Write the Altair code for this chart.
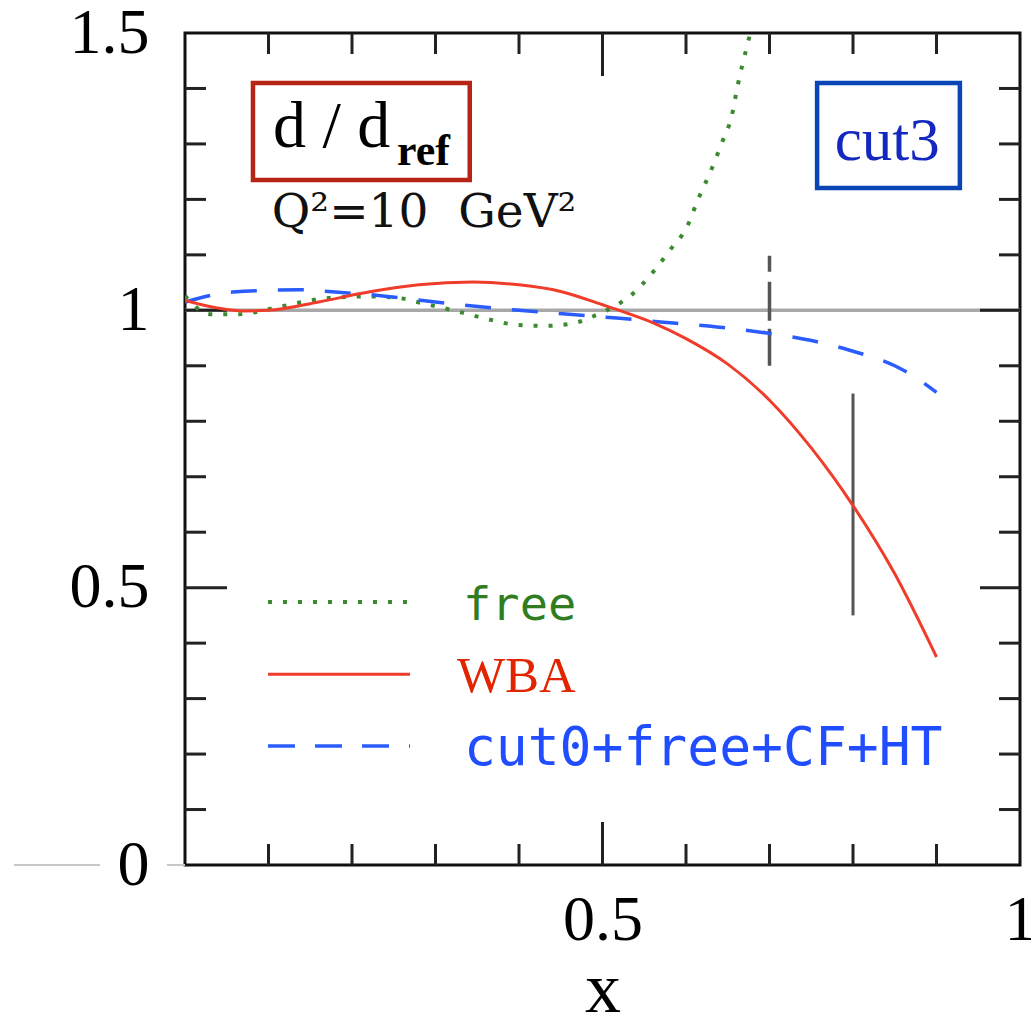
import altair as alt
import pandas as pd

# ---------------- data ----------------
wba_x = [0.0, 0.04, 0.07, 0.10, 0.16, 0.22, 0.28, 0.345, 0.40, 0.45, 0.50, 0.52, 0.56, 0.60, 0.65, 0.70, 0.75, 0.80, 0.85, 0.90]
wba_y = [1.018, 1.004, 0.999, 1.000, 1.015, 1.033, 1.046, 1.051, 1.046, 1.034, 1.010, 1.000, 0.978, 0.949, 0.903, 0.838, 0.752, 0.648, 0.525, 0.375]

cut0_x = [0.0, 0.057, 0.138, 0.18, 0.237, 0.30, 0.357, 0.40, 0.46, 0.517, 0.585, 0.637, 0.697, 0.749, 0.796, 0.85, 0.875, 0.90]
cut0_y = [1.015, 1.033, 1.037, 1.033, 1.026, 1.015, 1.006, 1.000, 0.993, 0.986, 0.977, 0.970, 0.959, 0.946, 0.928, 0.900, 0.879, 0.852]

free_x = [0.0, 0.030, 0.065, 0.10, 0.134, 0.17, 0.22, 0.257, 0.278, 0.329, 0.363, 0.397, 0.435, 0.471, 0.487, 0.505, 0.521, 0.537, 0.549, 0.569, 0.581, 0.601, 0.615, 0.629, 0.643, 0.655, 0.662, 0.674, 0.677]
free_y = [1.026, 0.993, 0.993, 1.002, 1.013, 1.022, 1.025, 1.022, 1.015, 0.997, 0.984, 0.974, 0.972, 0.979, 0.988, 1.000, 1.013, 1.031, 1.049, 1.085, 1.109, 1.150, 1.202, 1.249, 1.302, 1.352, 1.406, 1.482, 1.500]

ref_level = [1.0]

marker_x = [0.7, 0.8]
marker_lo = [0.9, 0.45]
marker_hi = [1.1, 0.85]

x_labels = [0.5, 1]
y_labels = [0, 0.5, 1, 1.5]
x_minor = [0.1, 0.2, 0.3, 0.4, 0.6, 0.7, 0.8, 0.9]
x_major = [0.5]
y_minor = [0.1, 0.2, 0.3, 0.4, 0.6, 0.7, 0.8, 0.9, 1.1, 1.2, 1.3, 1.4]
y_major = [0.5, 1.0]

legend_names = ["free", "WBA", "cut0+free+CF+HT"]

# ---------------- layout / styles ----------------
W, H = 835, 832
xs = alt.Scale(domain=[0, 1], nice=False, zero=False)
ys = alt.Scale(domain=[0, 1.5], nice=False, zero=False)
SERIF = "Liberation Serif"
MONO = "DejaVu Sans Mono"
RED, GREEN, BLUE = "#f03c2a", "#3b8a2f", "#2a5cff"
TICK = "#222222"

AXX = alt.Axis(values=x_labels, format="~g", ticks=False, tickSize=0, domain=False,
               grid=False, labelFont=SERIF, labelFontSize=64, labelColor="black",
               labelPadding=23, labelFlush=False, labelOverlap=False,
               titleFont=SERIF, titleFontSize=72, titleFontWeight="normal",
               titleColor="black", titlePadding=2)
AXY = alt.Axis(values=y_labels, format="~g", ticks=False, tickSize=0, domain=False,
               grid=False, labelFont=SERIF, labelFontSize=64, labelColor="black",
               labelPadding=36, labelFlush=False, labelOverlap=False)


def X(field="x"):
    return alt.X(f"{field}:Q", scale=xs, axis=AXX, title="x")


def Y(field="y"):
    return alt.Y(f"{field}:Q", scale=ys, axis=AXY, title=None)


# reference line at 1
ref_line = alt.Chart(pd.DataFrame({"y": ref_level})).mark_rule(
    color="#a8a8a8", strokeWidth=3.5).encode(y=Y())

# stray grey segment at y=0 left of the axis (as in the reference)
stray = alt.Chart(pd.DataFrame({"y": [0.0, 0.0], "x": [-0.2048, -0.0216], "x2": [-0.1018, 0.0]})).mark_rule(
    color="#c8c8c8", strokeWidth=2).encode(y=Y(), x=X(), x2="x2:Q")


# ticks (inward) on all four sides
def vticks(vals, length, top):
    df = pd.DataFrame({"x": vals})
    base = alt.Chart(df).mark_rule(color=TICK, strokeWidth=3)
    if top:
        return base.encode(x=X(), y=alt.value(0), y2=alt.value(length))
    return base.encode(x=X(), y=alt.value(H), y2=alt.value(H - length))


def hticks(vals, length, right):
    df = pd.DataFrame({"y": vals})
    base = alt.Chart(df).mark_rule(color=TICK, strokeWidth=3)
    if right:
        return base.encode(y=Y(), x=alt.value(W), x2=alt.value(W - length))
    return base.encode(y=Y(), x=alt.value(0), x2=alt.value(length))


ticks = [vticks(x_minor, 21, False), vticks(x_minor, 21, True),
         vticks(x_major, 43, False), vticks(x_major, 43, True),
         hticks(y_minor, 21, False), hticks(y_minor, 21, True),
         hticks(y_major, 42, False), hticks(y_major, 40, True)]

# vertical markers
mk_df = pd.DataFrame({"x": marker_x, "y": marker_lo, "hi": marker_hi})
mk_dashed = alt.Chart(mk_df.iloc[[0]]).mark_rule(
    color="#555555", strokeWidth=3.5, strokeDash=[37, 8, 39, 10, 16, 30]).encode(x=X(), y=Y(), y2="hi:Q")
mk_solid = alt.Chart(mk_df.iloc[[1]]).mark_rule(
    color="#555555", strokeWidth=3).encode(x=X(), y=Y(), y2="hi:Q")

# curves
free_line = alt.Chart(pd.DataFrame({"x": free_x, "y": free_y})).mark_line(
    color=GREEN, strokeWidth=4, strokeDash=[4, 11], interpolate="monotone", clip=True).encode(
    x=X(), y=Y(), order="x:Q")
cut0_line = alt.Chart(pd.DataFrame({"x": cut0_x, "y": cut0_y})).mark_line(
    color=BLUE, strokeWidth=3.5, strokeDash=[26, 21], interpolate="monotone", clip=True).encode(
    x=X(), y=Y(), order="x:Q")
wba_line = alt.Chart(pd.DataFrame({"x": wba_x, "y": wba_y})).mark_line(
    color=RED, strokeWidth=3, interpolate="monotone", clip=True).encode(
    x=X(), y=Y(), order="x:Q")

# legend samples
leg_y = [0.474, 0.344, 0.2145]
leg_x0, leg_x1 = 0.0994, 0.2695


def leg_line(i, **kw):
    df = pd.DataFrame({"x": [leg_x0, leg_x1], "y": [leg_y[i], leg_y[i]]})
    return alt.Chart(df).mark_line(**kw).encode(x=X(), y=Y())


leg_free = leg_line(0, color=GREEN, strokeWidth=4, strokeDash=[4, 11])
leg_wba = leg_line(1, color=RED, strokeWidth=3)
leg_cut0 = leg_line(2, color=BLUE, strokeWidth=3.5, strokeDash=[27, 20])


def label(text, x, y, **kw):
    df = pd.DataFrame({"x": [x], "y": [y], "t": [text]})
    return alt.Chart(df).mark_text(align="left", baseline="alphabetic", **kw).encode(
        x=X(), y=Y(), text="t:N")


lt_free = label(legend_names[0], 0.333, 0.4417, font=MONO, fontSize=47, color="#2f7d1f")
lt_wba = label(legend_names[1], 0.3257, 0.312, font=SERIF, fontSize=51, color="#e32400")
lt_cut0 = label(legend_names[2], 0.334, 0.180, font=MONO, fontSize=53, color="#1f4dff")


# boxed annotations
def box(x0, x1, y0, y1, color):
    df = pd.DataFrame({"x": [x0], "x2": [x1], "y": [y0], "y2": [y1]})
    return alt.Chart(df).mark_rect(fill="white", fillOpacity=0, stroke=color, strokeWidth=4.5).encode(
        x=X(), x2="x2:Q", y=Y(), y2="y2:Q")


box_d = box(0.0814, 0.341, 1.410, 1.235, "#b52414")
txt_d = label("d / d", 0.1054, 1.2944, font=SERIF, fontSize=66, color="black")
txt_ref = label("ref", 0.2539, 1.262, font=SERIF, fontSize=44, fontWeight="bold", color="black")
txt_q = label("Q²=10\u00a0\u00a0GeV²", 0.104, 1.150, font="DejaVu Serif", fontSize=47, color="#111111")
box_c = box(0.757, 0.928, 1.410, 1.2205, "#0a45b5")
txt_c = label("cut3", 0.778, 1.271, font=SERIF, fontSize=61, color="#1428c0")

chart = alt.layer(
    ref_line, stray, *ticks, mk_dashed, mk_solid,
    free_line, cut0_line, wba_line,
    leg_free, leg_wba, leg_cut0, lt_free, lt_wba, lt_cut0,
    box_d, txt_d, txt_ref, txt_q, box_c, txt_c,
).properties(
    width=W, height=H,
    padding={"left": 185, "top": 33, "right": 11, "bottom": 147},
    autosize=alt.AutoSizeParams(type="none"),
    background="white",
).configure_view(
    stroke="#111111", strokeWidth=3
)

chart.save("out.html", embed_options={"renderer": "svg", "actions": False})
